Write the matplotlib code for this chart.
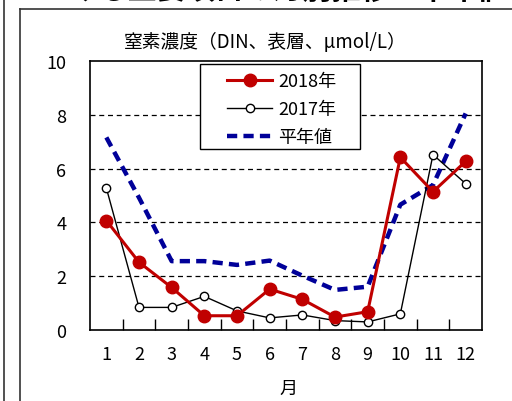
import numpy as np
import matplotlib
matplotlib.use('Agg')
from matplotlib import pyplot as plt
from matplotlib.lines import Line2D
from matplotlib.patches import Rectangle

plt.rcParams['font.family'] = ['Noto Sans CJK JP', 'DejaVu Sans']

# data
months = [1, 2, 3, 4, 5, 6, 7, 8, 9, 10, 11, 12]
din_2018 = [4.07, 2.52, 1.58, 0.53, 0.53, 1.52, 1.14, 0.48, 0.68, 6.42, 5.14, 6.27]
din_2017 = [5.28, 0.84, 0.84, 1.25, 0.71, 0.45, 0.56, 0.35, 0.30, 0.60, 6.52, 5.44]
din_normal = [7.16, 4.92, 2.56, 2.56, 2.42, 2.58, 2.02, 1.49, 1.61, 4.66, 5.39, 8.05]
yticks = [0, 2, 4, 6, 8, 10]

fs = 13
W, H = 512, 402
fig = plt.figure(figsize=(W / 100, H / 100), dpi=100)

''' frame lines from the original page '''
fig.add_artist(Line2D([4 / W, 4 / W], [0, 1], color='#333333', lw=1.2))
fig.add_artist(Line2D([20 / W, 20 / W], [0, 1 - 10 / H], color='#333333', lw=1.2))
fig.add_artist(Line2D([20 / W, 1], [1 - 10 / H, 1 - 10 / H], color='#333333', lw=1.2))
# cut-off page heading (only its lowest strokes are inside the picture)
fig.text(0.505, 1 + 1.5 / H, 'における主要項目の月別推移と平年値', ha='center', va='baseline',
         fontsize=21, fontweight='bold')

ax = fig.add_axes([90 / W, 71 / H, 392 / W, 269 / H])

ax.plot(months, din_normal, color='#000099', lw=3.2, dashes=(2.3, 1.4), label='平年値', zorder=3)
ax.plot(months, din_2017, color='black', lw=1.0, marker='o', ms=6,
        mfc='white', mec='black', mew=1.0, label='2017年', zorder=4)
ax.plot(months, din_2018, color='#C00000', lw=2.2, marker='o', ms=9,
        mfc='#C00000', mec='#C00000', label='2018年', zorder=5)

''' axes '''
ax.set_xlim(0.5, 12.5)
ax.set_ylim(0, 10)
ax.set_xticks(months)
ax.set_xticklabels([str(m) for m in months], fontsize=fs)
ax.set_xticks(np.arange(1.5, 12, 1), minor=True)
ax.tick_params(axis='x', which='major', length=0, pad=11)
ax.tick_params(axis='x', which='minor', direction='in', length=8, width=1)
ax.set_yticks(yticks)
ax.set_yticklabels([str(v) for v in yticks], fontsize=fs)
ax.tick_params(axis='y', length=0, pad=17)
for v in yticks[1:-1]:
    ax.axhline(v, color='black', lw=0.9, dashes=(4, 3), zorder=1)
for s in ax.spines.values():
    s.set_linewidth(1.2)

fig.text(265 / W, 1 - 42 / H, '窒素濃度（DIN、表層、μmol/L）', ha='center', va='center', fontsize=13.5)
fig.text(288 / W, 1 - 389 / H, '月', ha='center', va='center', fontsize=fs)

''' legend: entries without frame, plus a plain box around them '''
h, l = ax.get_legend_handles_labels()
order = [2, 1, 0]
leg = ax.legend([h[i] for i in order], [l[i] for i in order], loc='upper left',
                bbox_to_anchor=((227 - 90) / 392, (331 - 73) / 269), fontsize=fs, frameon=False,
                handlelength=2.5, borderpad=0, labelspacing=0.55, handletextpad=0.35,
                borderaxespad=0)
leg.set_zorder(7)
box = Rectangle(((200 - 90) / 392, (331 - 150) / 269), 160 / 392, 85 / 269,
                transform=ax.transAxes, facecolor='white', edgecolor='black', lw=1.0, zorder=6)
ax.add_patch(box)

fig.savefig('out.png', dpi=100)
